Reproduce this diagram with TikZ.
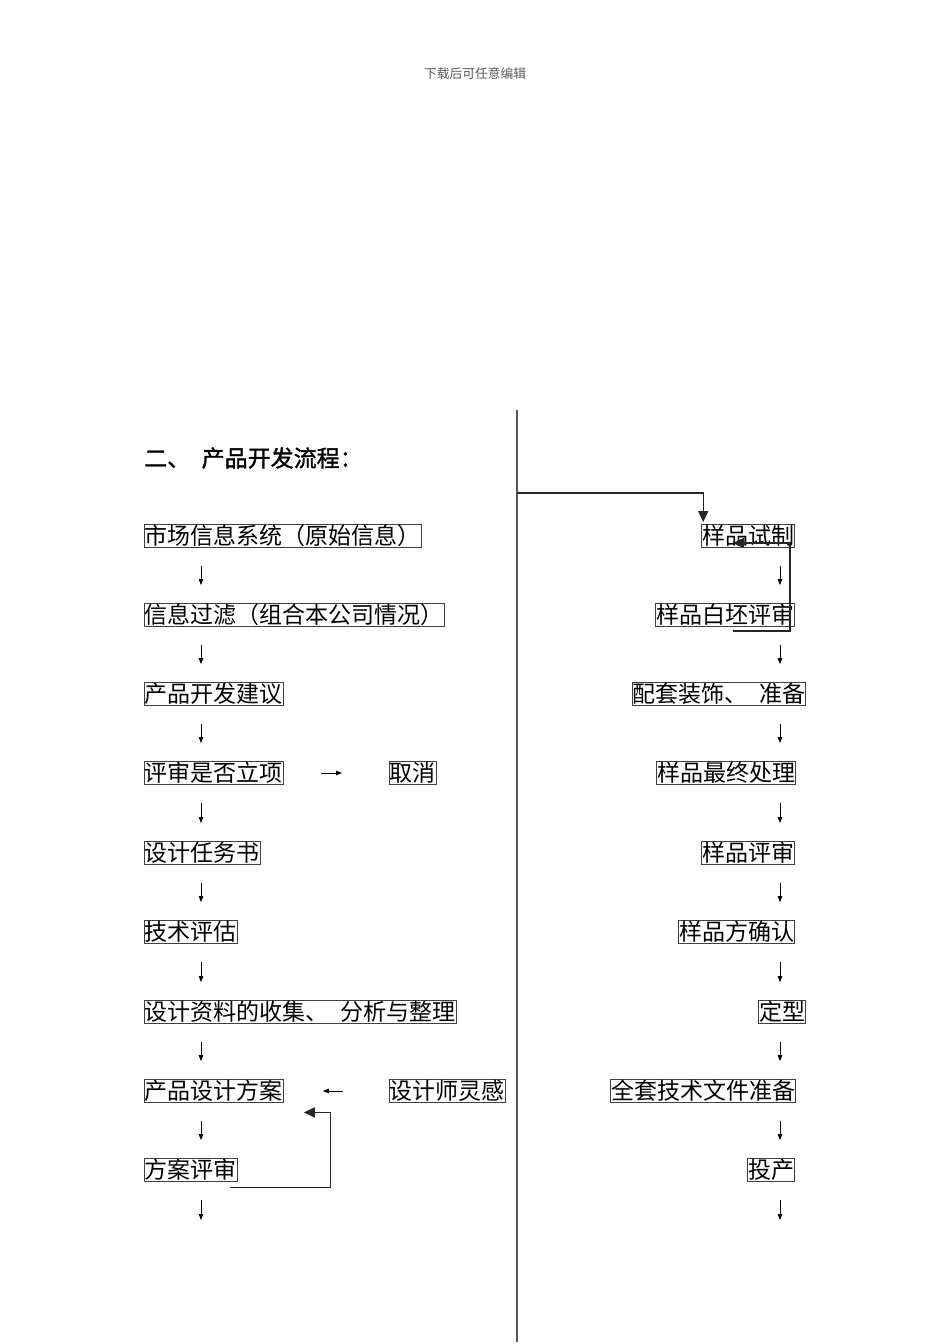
\documentclass[tikz,border=0pt]{standalone}
\usepackage{fontspec}
\newfontfamily\cjk{Noto Sans CJK SC}
\newfontfamily\cjkhead{Noto Sans CJK SC}[FakeBold=1.3]
\usetikzlibrary{arrows.meta, positioning, calc}
\tikzstyle{box} = [rectangle,
draw=black!75,
line width=0.8pt,
inner xsep=0.5pt,
inner ysep=0pt,
text height=20.2pt,
text depth=2.8pt,
font=\cjk\fontsize{23}{23}\selectfont]
\tikzstyle{lbox} = [box, anchor=west]
\tikzstyle{rbox} = [box, anchor=east]
\tikzstyle{down} = [line width=0.8pt, -{Triangle[length=6pt,width=4.5pt]},
shorten <=18pt, shorten >=18pt]
\tikzstyle{side} = [line width=0.8pt, -{Triangle[length=6pt,width=4.5pt]}]
\tikzstyle{back} = [line width=1.3pt, draw=black!85, -{Triangle[length=11pt,width=10pt]}]
\tikzstyle{divider} = [line width=1.8pt, draw=black!65]
\begin{document}
\begin{tikzpicture}[x=1pt, y=-1pt]
\useasboundingbox (0,0) rectangle (950,1344);

\node (head) [font=\cjk\fontsize{12.75}{13}\selectfont, text=black!65] at (475,74) {下载后可任意编辑};
\node (title) [anchor=west, inner sep=0pt, font=\cjkhead\fontsize{23}{23}\selectfont] at (144,458) {二、\enspace 产品开发流程：};

% left column
\coordinate (lx) at (201,0);
\node (mkt) [lbox] at (144,536) {市场信息系统（原始信息）};
\node (filt) [lbox] at (144,615) {信息过滤（组合本公司情况）};
\node (sugg) [lbox] at (144,694) {产品开发建议};
\node (rev) [lbox] at (144,773) {评审是否立项};
\node (cancel) [lbox] at (389,773) {取消};
\node (task) [lbox] at (144,853) {设计任务书};
\node (tech) [lbox] at (144,932) {技术评估};
\node (data) [lbox] at (144,1012) {设计资料的收集、\enspace 分析与整理};
\node (plan) [lbox] at (144,1091) {产品设计方案};
\node (insp) [lbox] at (389,1091) {设计师灵感};
\node (prev) [lbox] at (144,1170) {方案评审};
\coordinate (lend) at (201,1238);

% right column
\coordinate (rx) at (780,0);
\node (proto) [rbox] at (795,536) {样品试制};
\node (white) [rbox] at (795,615) {样品白坯评审};
\node (deco) [rbox] at (806,694) {配套装饰、\enspace 准备};
\node (final) [rbox] at (796,773) {样品最终处理};
\node (srev) [rbox] at (795,853) {样品评审};
\node (conf) [rbox] at (795,932) {样品方确认};
\node (fix) [rbox] at (806,1012) {定型};
\node (docs) [rbox] at (796,1091) {全套技术文件准备};
\node (prod) [rbox] at (795,1170) {投产};
\coordinate (rend) at (780,1238);

% divider
\coordinate (dtop) at (517,410);
\coordinate (dbot) at (517,1342);
\draw [divider] (dtop) -- (dbot);

\draw [down] (mkt.south -| lx) -- (filt.north -| lx);
\draw [down] (filt.south -| lx) -- (sugg.north -| lx);
\draw [down] (sugg.south -| lx) -- (rev.north -| lx);
\draw [down] (rev.south -| lx) -- (task.north -| lx);
\draw [down] (task.south -| lx) -- (tech.north -| lx);
\draw [down] (tech.south -| lx) -- (data.north -| lx);
\draw [down] (data.south -| lx) -- (plan.north -| lx);
\draw [down] (plan.south -| lx) -- (prev.north -| lx);
\draw [down] (prev.south -| lx) -- (lend);
\draw [side, shorten <=37pt, shorten >=47pt] (rev.east) -- (cancel.west);
\draw [side, shorten <=46pt, shorten >=39pt] (insp.west) -- (plan.east);
\draw [back] ($(prev.south east)+(-8,5.5)$) -| ($(plan.south east)+(47,9.5)$) -- ++(-27,0);

\draw [down] (proto.south -| rx) -- (white.north -| rx);
\draw [down] (white.south -| rx) -- (deco.north -| rx);
\draw [down] (deco.south -| rx) -- (final.north -| rx);
\draw [down] (final.south -| rx) -- (srev.north -| rx);
\draw [down] (srev.south -| rx) -- (conf.north -| rx);
\draw [down] (conf.south -| rx) -- (fix.north -| rx);
\draw [down] (fix.south -| rx) -- (docs.north -| rx);
\draw [down] (docs.south -| rx) -- (prod.north -| rx);
\draw [down] (prod.south -| rx) -- (lend -| rx);
\draw [back] ($(dtop)+(0,83)$) -| ($(proto.north west)+(2,-2)$);
\draw [back] ($(white.south east)+(-62,4)$) -| ($(proto.east)+(-5,7)$) -- ++(-57,0);

\end{tikzpicture}
\end{document}
